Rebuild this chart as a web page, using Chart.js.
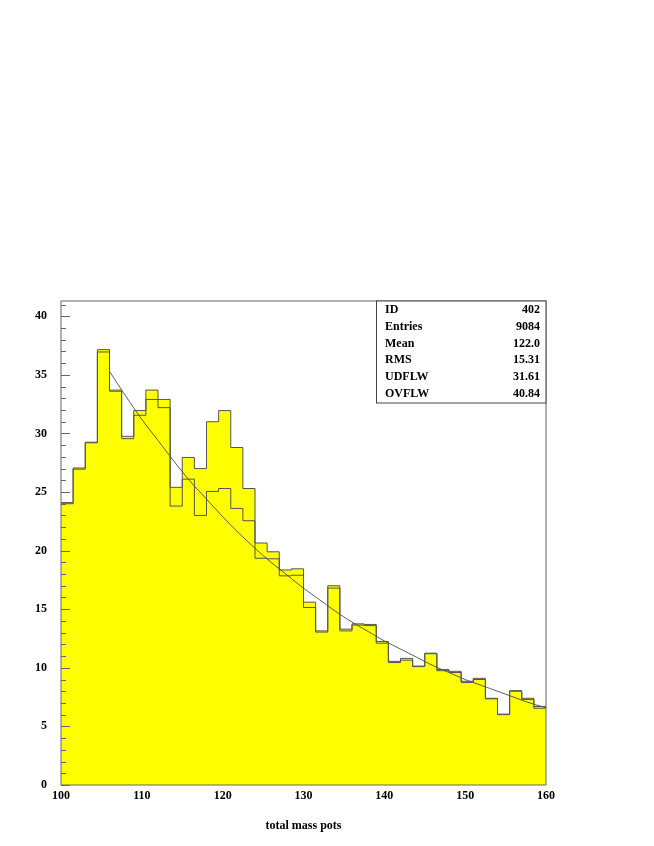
<!DOCTYPE html>
<html>
<head>
<meta charset="utf-8">
<script src="https://cdn.jsdelivr.net/npm/chart.js@4"></script>
<style>
  body { margin: 0; background: #fff; }
  canvas { display: block; }
</style>
</head>
<body>
<canvas id="histo" width="654" height="846"></canvas>
<script>
"use strict";

// Bin low edges (width 1.5)
const binLow = [100, 101.5, 103, 104.5, 106, 107.5, 109, 110.5, 112, 113.5,
                115, 116.5, 118, 119.5, 121, 122.5, 124, 125.5, 127, 128.5,
                130, 131.5, 133, 134.5, 136, 137.5, 139, 140.5, 142, 143.5,
                145, 146.5, 148, 149.5, 151, 152.5, 154, 155.5, 157, 158.5];
const binEnd = 160;

// First histogram
const histA = [24.1, 27.05, 29.25, 37.15, 33.7, 29.75, 31.95, 33.7, 32.9, 25.4,
               27.95, 27.0, 31.0, 31.95, 28.8, 25.3, 20.65, 19.9, 18.35, 18.45,
               15.6, 13.15, 17.0, 13.3, 13.75, 13.7, 12.25, 10.55, 10.8, 10.15,
               11.25, 9.85, 9.7, 8.85, 9.1, 7.4, 6.05, 8.05, 7.4, 6.7];

// Second histogram
const histB = [24.0, 26.95, 29.2, 36.95, 33.6, 29.55, 31.55, 32.9, 32.2, 23.8,
               26.1, 23.0, 25.05, 25.3, 23.6, 22.55, 19.35, 19.3, 17.85, 17.9,
               15.15, 13.05, 16.8, 13.15, 13.65, 13.6, 12.1, 10.45, 10.65, 10.1,
               11.2, 9.75, 9.6, 8.75, 9.0, 7.35, 6.0, 8.0, 7.3, 6.55];

// Fitted curve
const fitX = [106, 108, 110, 112, 114, 116, 118, 120, 122, 124, 126, 128, 130, 132,
              134, 136, 138, 140, 142, 144, 146, 148, 150, 152, 154, 156, 158, 160];
const fitY = [35.3, 33.2, 31.2, 29.4, 27.6, 25.9, 24.4, 22.9, 21.5, 20.2, 19.0, 17.9, 16.8, 15.8,
              14.8, 13.9, 13.1, 12.3, 11.6, 10.9, 10.2, 9.6, 9.0, 8.5, 8.0, 7.5, 7.0, 6.6];

// Stats box rows
const statLabels = ['ID', 'Entries', 'Mean', 'RMS', 'UDFLW', 'OVFLW'];
const statValues = ['402', '9084', '122.0', '15.31', '31.61', '40.84'];

const FONT = "'Liberation Serif', 'Times New Roman', serif";
const LINE = '#555';
const FRAME = '#666';

// Turn bin contents into step points
const toSteps = values => {
    const pts = binLow.map((x, i) => ({ x: x, y: values[i] }));
    pts.push({ x: binEnd, y: values[values.length - 1] });
    return pts;
};

const histDataset = values => ({
    type: 'line',
    data: toSteps(values),
    stepped: 'before',
    fill: 'origin',
    backgroundColor: '#ffff00',
    borderColor: LINE,
    borderWidth: 1,
    pointRadius: 0
});

// Frame, inward ticks and stats box
const paw = {
    id: 'paw',
    afterDraw(chart) {
        const { ctx, chartArea: a, scales } = chart;
        ctx.save();

        // y ticks, drawn inward
        ctx.strokeStyle = FRAME;
        ctx.lineWidth = 1;
        ctx.beginPath();
        for (let v = 0; v <= 41; v++) {
            const y = Math.round(scales.y.getPixelForValue(v)) + 0.5;
            const len = v % 5 === 0 ? 9 : 5;
            ctx.moveTo(a.left, y);
            ctx.lineTo(a.left + len, y);
        }
        ctx.stroke();

        // frame
        ctx.strokeRect(a.left, a.top, a.right - a.left, a.bottom - a.top);

        // stats box
        const bx = 376, by = a.top, bw = a.right - 376, bh = 102;
        ctx.fillStyle = '#fff';
        ctx.fillRect(bx, by, bw, bh);
        ctx.strokeStyle = '#444';
        ctx.strokeRect(bx + 0.5, by, bw - 0.5, bh);
        ctx.fillStyle = '#000';
        ctx.font = `bold 12px ${ FONT }`;
        ctx.textBaseline = 'middle';
        statLabels.forEach((lab, i) => {
            const y = by + 9 + i * 16.8;
            ctx.textAlign = 'left';
            ctx.fillText(lab, 385, y);
            ctx.textAlign = 'right';
            ctx.fillText(statValues[i], 540, y);
        });
        ctx.restore();
    }
};

const histChart = new Chart(document.getElementById('histo').getContext('2d'), {
    type: 'line',
    data: {
        datasets: [
            histDataset(histA),
            histDataset(histB),
            {
                type: 'line',
                data: fitX.map((x, i) => ({ x: x, y: fitY[i] })),
                borderColor: '#333',
                borderWidth: 0.8,
                pointRadius: 0,
                fill: false,
                tension: 0.4
            }
        ]
    },
    options: {
        responsive: false,
        animation: false,
        events: [],
        layout: {
            padding: { top: 301, right: 108, left: 0, bottom: 0 }
        },
        plugins: {
            legend: { display: false },
            tooltip: { enabled: false },
            filler: { drawTime: 'beforeDatasetsDraw' }
        },
        scales: {
            x: {
                type: 'linear',
                min: 100,
                max: 160,
                grid: { display: false, drawTicks: false },
                border: { display: false },
                ticks: {
                    stepSize: 10,
                    padding: 4,
                    color: '#000',
                    maxRotation: 0,
                    font: { family: FONT, size: 12, weight: 'bold' }
                },
                title: {
                    display: true,
                    text: 'total mass pots',
                    color: '#000',
                    padding: { top: 0, bottom: 13 },
                    font: { family: FONT, size: 12, weight: 'bold' }
                },
                afterFit: scale => { scale.height = 61; }
            },
            y: {
                min: 0,
                max: 41.3,
                grid: { display: false, drawTicks: false },
                border: { display: false },
                ticks: {
                    stepSize: 5,
                    includeBounds: false,
                    padding: 14,
                    color: '#000',
                    font: { family: FONT, size: 12, weight: 'bold' }
                },
                afterFit: scale => { scale.width = 61; }
            }
        }
    },
    plugins: [paw]
});
</script>
</body>
</html>
